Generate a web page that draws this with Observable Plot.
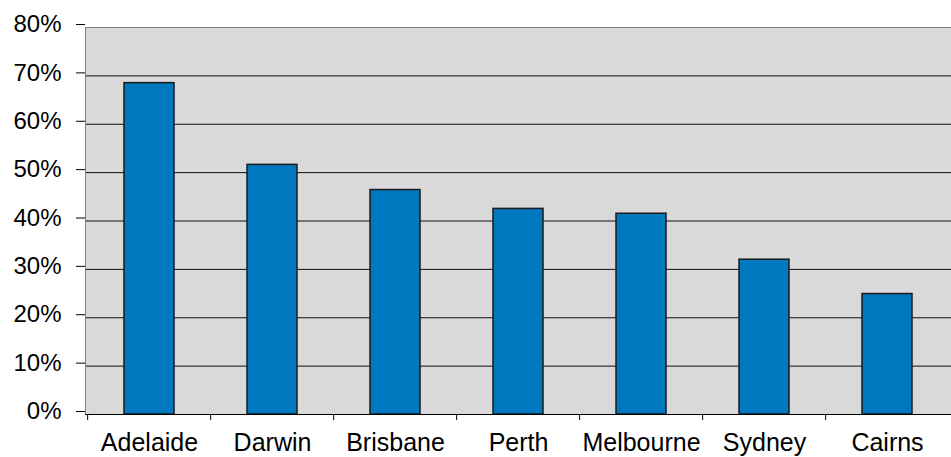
<!DOCTYPE html>
<html>
<head>
<meta charset="utf-8">
<script src="https://cdn.jsdelivr.net/npm/d3@7"></script>
<script src="https://cdn.jsdelivr.net/npm/@observablehq/plot@0.6"></script>
<style>
  html, body { margin: 0; padding: 0; background: #fff; }
  #chart svg { display: block; }
</style>
</head>
<body>
<div id="chart"></div>
<script>
const cities = ["Adelaide", "Darwin", "Brisbane", "Perth", "Melbourne", "Sydney", "Cairns"];
const shares = [68.5, 51.6, 46.4, 42.5, 41.5, 32.0, 24.9];
const yTicks = [0, 10, 20, 30, 40, 50, 60, 70, 80];

const data = cities.map((c, i) => ({city: c, value: shares[i]}));

const W = 951, H = 457;
const mL = 85, mR = 0, mT = 27, mB = 43;
const bw = (W - mL - mR) / cities.length;

const chart = Plot.plot({
  width: W,
  height: H,
  marginLeft: mL,
  marginRight: mR,
  marginTop: mT,
  marginBottom: mB,
  style: {fontFamily: "'Liberation Sans', Arial, sans-serif", fontSize: "24px", color: "#000", background: "transparent"},
  x: {domain: cities, paddingInner: 0.595, paddingOuter: 0.2975, align: 0.5},
  y: {domain: [0, 80]},
  marks: [
    Plot.frame({fill: "#d9d9d9", stroke: null}),
    Plot.ruleY(yTicks.slice(0, -1), {stroke: "#111", strokeWidth: 1}),
    Plot.frame({anchor: "left", stroke: "#808080"}),
    Plot.frame({anchor: "top", stroke: "#808080"}),
    Plot.barY(data, {x: "city", y: "value", fill: "#0078bf", stroke: "#1a1a1a", strokeWidth: 1.5}),
    Plot.ruleY([0], {stroke: "#000", strokeWidth: 1}),
    Plot.axisY({ticks: yTicks, tickFormat: d => d + "%", tickSize: 9, tickPadding: 15, dy: -3, stroke: "#000", fontSize: 24, label: null}),
    Plot.axisX({tickSize: 6, tickFormat: () => "", dx: -bw / 2, label: null, stroke: "#000"}),
    Plot.axisX({tickSize: 0, tickPadding: 19, label: null, fontSize: 25})
  ]
});
document.getElementById("chart").appendChild(chart);
</script>
</body>
</html>
